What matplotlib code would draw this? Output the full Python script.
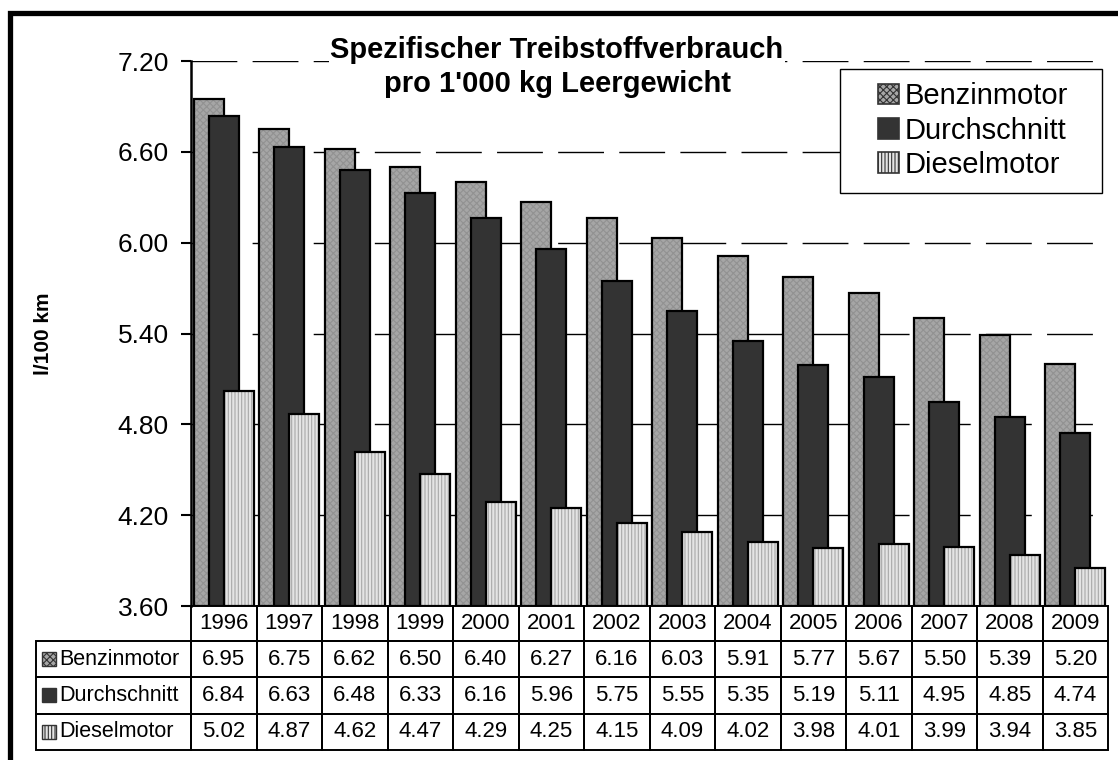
import numpy as np
import matplotlib.pyplot as plt
import matplotlib.transforms as mtransforms
from matplotlib.patches import Rectangle

plt.rcParams['font.family'] = ['Liberation Sans', 'DejaVu Sans']
plt.rcParams['hatch.linewidth'] = 0.8

years = ['1996', '1997', '1998', '1999', '2000', '2001', '2002',
         '2003', '2004', '2005', '2006', '2007', '2008', '2009']
benzin = [6.95, 6.75, 6.62, 6.50, 6.40, 6.27, 6.16, 6.03, 5.91, 5.77, 5.67, 5.50, 5.39, 5.20]
schnitt = [6.84, 6.63, 6.48, 6.33, 6.16, 5.96, 5.75, 5.55, 5.35, 5.19, 5.11, 4.95, 4.85, 4.74]
diesel = [5.02, 4.87, 4.62, 4.47, 4.29, 4.25, 4.15, 4.09, 4.02, 3.98, 4.01, 3.99, 3.94, 3.85]
series_names = ['Benzinmotor', 'Durchschnitt', 'Dieselmotor']
yticks = [3.60, 4.20, 4.80, 5.40, 6.00, 6.60, 7.20]

W, H = 1118, 760
fig = plt.figure(figsize=(W / 100, H / 100), dpi=100)
ax = fig.add_axes([191 / W, 1 - 606 / H, 917 / W, 545 / H])

x = np.arange(len(years))
bw = 0.46
off = 0.23
styles = [
    dict(face='#a6a6a6', hatch='xxxxx', hcol='#929292'),
    dict(face='#333333', hatch=None, hcol='#333333'),
    dict(face='#e4e4e4', hatch='|||||', hcol='#a8a8a8'),
]
all_vals = [benzin, schnitt, diesel]
handles = []
for i, (vals, st) in enumerate(zip(all_vals, styles)):
    pos = x + (i - 1) * off
    heights = np.array(vals) - 3.6
    ax.bar(pos, heights, bw, bottom=3.6, color=st['face'], hatch=st['hatch'],
           edgecolor=st['hcol'], linewidth=0, zorder=2 + i)
    ax.bar(pos, heights, bw, bottom=3.6, fill=False, edgecolor='black',
           linewidth=1.6, zorder=2 + i)
    handles.append(Rectangle((0, 0), 1, 1, facecolor=st['face'], hatch=st['hatch'],
                             edgecolor='#333333', linewidth=1.2))

ax.set_xlim(-0.5, len(years) - 0.5)
ax.set_ylim(3.6, 7.2)
ax.set_yticks(yticks)
ax.set_yticklabels([f'{v:.2f}' for v in yticks], fontsize=19)
ax.set_xticks([])
ax.tick_params(axis='y', direction='out', length=7, width=1.5, pad=9)
for v in yticks[1:]:
    ax.axhline(v, color='black', linewidth=1.0, dashes=(33, 11), zorder=1)
for s in ['top', 'right', 'bottom']:
    ax.spines[s].set_visible(False)
ax.spines['left'].set_linewidth(1.8)
ax.set_ylabel('l/100 km', fontsize=15, fontweight='bold')
ax.yaxis.set_label_coords(-0.151, 0.5)

# data table under the plot: x in category units, y in axes units
tr = mtransforms.blended_transform_factory(ax.transData, ax.transAxes)
px = 545.0
head_h = 35 / px
row_h = 36.3 / px
lab_w = 155 / 65.5
cell_kw = dict(transform=tr, fill=False, edgecolor='black', linewidth=1.4, clip_on=False)
for j, yr in enumerate(years):
    ax.add_patch(Rectangle((j - 0.5, -head_h), 1, head_h, **cell_kw))
    ax.text(j, -head_h / 2, yr, transform=tr, ha='center', va='center', fontsize=16)
for i, (name, vals, st) in enumerate(zip(series_names, all_vals, styles)):
    y0 = -head_h - (i + 1) * row_h
    yc = y0 + row_h / 2
    ax.add_patch(Rectangle((-0.5 - lab_w, y0), lab_w, row_h, **cell_kw))
    ax.add_patch(Rectangle((-0.5 - lab_w + 6 / 65.5, yc - 7 / px), 14 / 65.5, 14 / px,
                           transform=tr, facecolor=st['face'], hatch=st['hatch'],
                           edgecolor='#333333', linewidth=1.0, clip_on=False))
    ax.text(-0.5 - lab_w + 23 / 65.5, yc, name, transform=tr, ha='left', va='center',
            fontsize=15.5)
    for j, v in enumerate(vals):
        ax.add_patch(Rectangle((j - 0.5, y0), 1, row_h, **cell_kw))
        ax.text(j, yc, f'{v:.2f}', transform=tr, ha='center', va='center', fontsize=16)

# legend: entries without frame, frame drawn as its own box beneath them
ax.add_patch(Rectangle((840 / W, 1 - 193 / H), 262 / W, 124 / H, transform=fig.transFigure,
                       facecolor='white', edgecolor='black', linewidth=1.0,
                       clip_on=False, zorder=15))
leg = ax.legend(handles, series_names, loc='upper right',
                bbox_to_anchor=(1081 / W, 1 - 69 / H), bbox_transform=fig.transFigure,
                fontsize=21, handlelength=0.72, handleheight=0.72, handletextpad=0.18,
                labelspacing=0.22, borderpad=0.45, borderaxespad=0, frameon=False)
leg.set_zorder(20)

fig.text(557 / W, 1 - 67 / H, 'Spezifischer Treibstoffverbrauch\npro 1\'000 kg Leergewicht',
         ha='center', va='center', fontsize=21, fontweight='bold', linespacing=1.3,
         bbox=dict(facecolor='white', edgecolor='none', pad=1), zorder=20)

# thick outer frame (cut off at right and bottom)
fig.add_artist(Rectangle((10 / W, -0.1), 1.2, 1.1 - 13 / H, transform=fig.transFigure,
                         fill=False, edgecolor='black', linewidth=3.8))

fig.savefig('out.png', dpi=100)
